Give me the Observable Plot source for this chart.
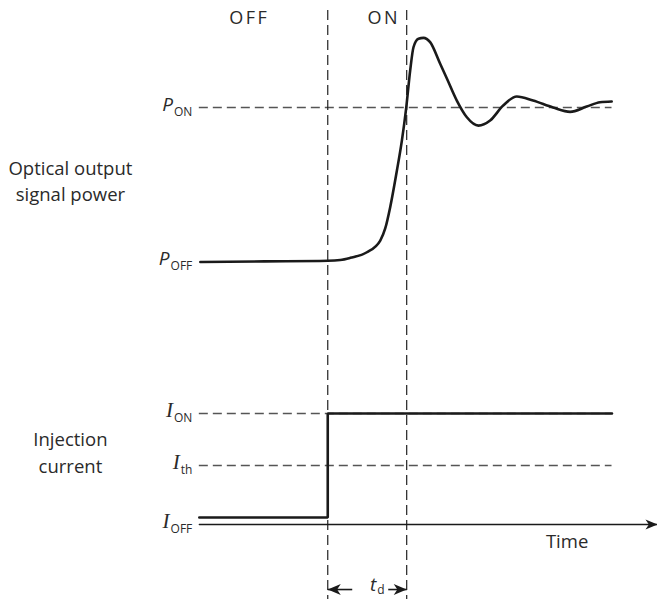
<!DOCTYPE html>
<html><head><meta charset="utf-8">
<script src="https://cdn.jsdelivr.net/npm/d3@7"></script>
<script src="https://cdn.jsdelivr.net/npm/@observablehq/plot@0.6"></script>
<style>body{margin:0;background:#fff;}</style>
</head><body><div id="chart"></div>
<script>
// time in units of the turn-on delay (0 = current step, 1 = end of delay t_d)
// level in units of output power (P_OFF = 0, P_ON = 1); the current panel sits below
const powerCurve = [
  [-1.614, 0], [-0.8, 0.004], [0, 0.008], [0.158, 0.013], [0.285, 0.027], [0.496, 0.063],
  [0.665, 0.139], [0.728, 0.217], [0.791, 0.355], [0.876, 0.592], [0.939, 0.786],
  [0.994, 0.998], [1.044, 1.239], [1.086, 1.390], [1.149, 1.445], [1.213, 1.451],
  [1.297, 1.423], [1.424, 1.283], [1.509, 1.188], [1.635, 1.045], [1.762, 0.937],
  [1.909, 0.883], [2.057, 0.916], [2.222, 1.013], [2.395, 1.071], [2.601, 1.045],
  [2.854, 1.0], [3.070, 0.972], [3.281, 1.006], [3.449, 1.034], [3.597, 1.039]
];
const currentCurve = [[-1.627, -1.654], [0, -1.654], [0, -0.981], [3.601, -0.981]];
const levelLines = [{name: "P_ON", v: 1}, {name: "I_ON", v: -0.981}, {name: "I_th", v: -1.317}];
const levelSpan = [-1.627, 3.601];
const levelLabels = [
  {name: "P_ON", v: 1}, {name: "P_OFF", v: 0},
  {name: "I_ON", v: -0.981}, {name: "I_th", v: -1.317}, {name: "I_OFF", v: -1.699}
];
const switchTimes = [0, 1];
const switchSpan = [1.628, -2.1845];
const stateLabels = [{text: "OFF", t: -0.994, v: 1.576}, {text: "ON", t: 0.709, v: 1.576}];
const sideLabels = [
  {text: "Optical output\nsignal power", t: -3.26, v: 0.535},
  {text: "Injection\ncurrent", t: -3.26, v: -1.225}
];
const timeAxis = [[-1.627, -1.699], [4.177, -1.699]];
const timeLabel = [{text: "Time", t: 3.032, v: -1.816}];
const delayArrows = [
  {from: 0.31, to: 0, v: -2.12, dir: -90},
  {from: 0.766, to: 1, v: -2.12, dir: 90}
];
const delayLabel = [{text: "t_d", t: 0.627, v: -2.11}];
const axisHead = [{t: 4.177, v: -1.699, dir: 90}];

// barbed arrowhead symbol, tip at origin, pointing up
const arrowSymbol = {
  draw(ctx, size) {
    const k = Math.sqrt(size / Math.PI);
    const L = 2 * k, w = 0.85 * k;
    ctx.moveTo(0, 0);
    ctx.lineTo(w, L);
    ctx.lineTo(0, 0.72 * L);
    ctx.lineTo(-w, L);
    ctx.closePath();
  }
};

const ink = "#1a1a1a";
const textInk = "#2a2a2a";
const svg = Plot.plot({
  width: 657, height: 599,
  marginTop: 0, marginBottom: 0, marginLeft: 0, marginRight: 0,
  x: {domain: [-4.1456, 4.1772], axis: null},
  y: {domain: [-2.1845, 1.6926], axis: null},
  style: {background: "#fff", fontFamily: "'Open Sans', sans-serif", overflow: "visible"},
  marks: [
    Plot.ruleY(levelLines, {y: "v", x1: levelSpan[0], x2: levelSpan[1], stroke: "#555", strokeWidth: 1.4, strokeDasharray: "9,5"}),
    Plot.ruleX(switchTimes, {x: d => d, y1: switchSpan[0], y2: switchSpan[1], stroke: "#222", strokeWidth: 1.2, strokeDasharray: "10,5"}),
    Plot.line(timeAxis, {x: d => d[0], y: d => d[1], stroke: ink, strokeWidth: 1.4}),
    Plot.dot(axisHead, {x: "t", y: "v", rotate: "dir", symbol: arrowSymbol, r: 6, fill: ink, stroke: null}),
    Plot.line(currentCurve, {x: d => d[0], y: d => d[1], stroke: ink, strokeWidth: 2.6, strokeLinejoin: "miter"}),
    Plot.line(powerCurve, {x: d => d[0], y: d => d[1], stroke: ink, strokeWidth: 2.6, curve: "monotone-x"}),
    Plot.link(delayArrows, {x1: "from", x2: "to", y1: "v", y2: "v", stroke: ink, strokeWidth: 1.6}),
    Plot.dot(delayArrows, {x: "to", y: "v", rotate: "dir", symbol: arrowSymbol, r: 6.5, fill: ink, stroke: null}),
    Plot.text(levelLabels, {x: levelSpan[0], y: "v", text: "name", textAnchor: "end", dx: -7, fill: textInk}),
    Plot.text(delayLabel, {x: "t", y: "v", text: "text", textAnchor: "middle", fill: textInk}),
    Plot.text(stateLabels, {x: "t", y: "v", text: "text", fontSize: 18, fill: textInk}),
    Plot.text(sideLabels, {x: "t", y: "v", text: "text", fontSize: 18.5, lineHeight: 1.45, fill: textInk}),
    Plot.text(timeLabel, {x: "t", y: "v", text: "text", fontSize: 18.5, fill: textInk})
  ]
});

d3.select(svg).selectAll("text").each(function () {
  const s = d3.select(this);
  if (!this.querySelector("tspan")) {
    const txt = s.text();
    if (txt === "OFF" || txt === "ON") {
      s.attr("letter-spacing", "2.5px");
    } else if (txt.includes("_")) {
      const [main, sub] = txt.split("_");
      s.text(null);
      const serif = main === "I";
      s.append("tspan")
        .attr("font-style", "italic")
        .attr("font-family", serif ? "'Liberation Serif', serif" : "'Open Sans', sans-serif")
        .attr("font-size", serif ? 21 : 19)
        .text(main);
      s.append("tspan").attr("font-size", 12).attr("dx", 1).attr("dy", main === "t" ? 2.5 : 5).text(sub);
    }
  }
});

document.getElementById("chart").append(svg);
</script>
</body></html>
